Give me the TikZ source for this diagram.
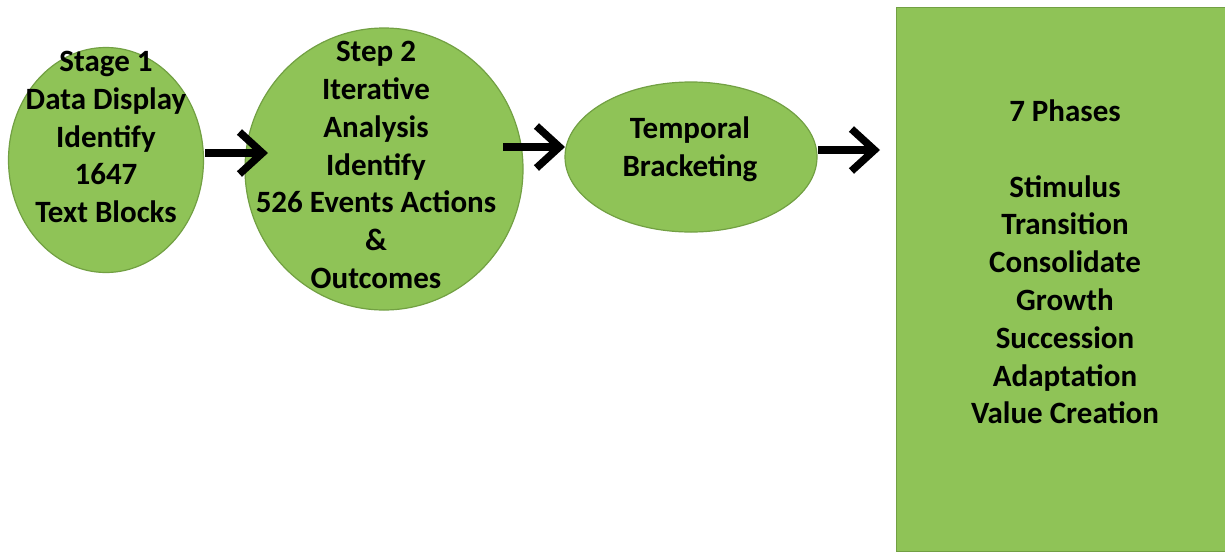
\documentclass[tikz,border=0pt]{standalone}
\usepackage{fontspec}
\setmainfont{Carlito}
\usetikzlibrary{arrows.meta,shapes.geometric}
\definecolor{leaf}{HTML}{8FC357}
\definecolor{leafedge}{HTML}{72A043}
\begin{document}
\begin{tikzpicture}[x=1pt,y=-1pt,
  blob/.style={ellipse,fill=leaf,draw=leafedge,line width=1.2pt,inner sep=0pt},
  txt/.style={align=center,font=\bfseries\fontsize{31}{37.8}\selectfont,text=black,inner sep=0pt},
  flow/.style={line width=7.5pt,-{Straight Barb[length=23pt,width=42pt,line width=7.5pt]}}]
\useasboundingbox (0,0) rectangle (1225,552);
\clip (0,0) rectangle (1225,552);
% stages
\node[blob,minimum width=195pt,minimum height=225pt] (s1) at (106,160) {};
\node[blob,minimum width=278pt,minimum height=282pt] (s2) at (384,169) {};
\node[blob,minimum width=252pt,minimum height=150pt] (s3) at (691,157) {};
\node[fill=leaf,draw=leafedge,line width=1.2pt,anchor=north west,
      minimum width=340pt,minimum height=544pt,inner sep=0pt] (ph) at (896,7) {};
% texts
\node[txt] (t1) at (106,137) {Stage 1\\Data Display\\Identify\\1647\\Text Blocks};
\node[txt] (t2) at (376,165) {Step 2\\Iterative\\Analysis\\Identify\\526 Events Actions\\\&\\Outcomes};
\node[txt] (t3) at (690,149) {Temporal\\Bracketing};
\node[txt] (t4) at (1065,262) {7 Phases\\[37.8pt]Stimulus\\Transition\\Consolidate\\Growth\\Succession\\Adaptation\\Value Creation};
% connectors
\coordinate (a1) at (205,153); \coordinate (b1) at (268,153);
\coordinate (a2) at (503,147); \coordinate (b2) at (565,147);
\coordinate (a3) at (818,150); \coordinate (b3) at (880,150);
\draw[flow] (a1) -- (b1);
\draw[flow] (a2) -- (b2);
\draw[flow] (a3) -- (b3);
\end{tikzpicture}
\end{document}
